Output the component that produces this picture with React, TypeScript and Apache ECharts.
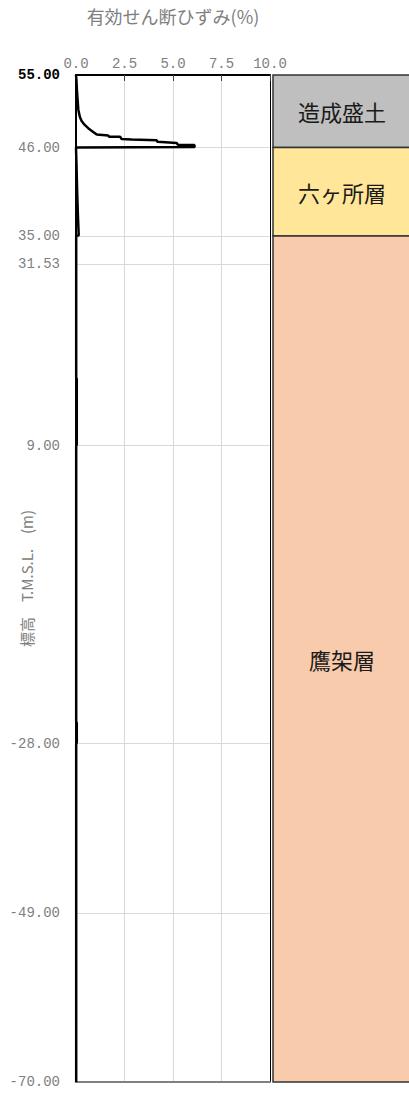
import React, { useEffect, useRef } from 'react';
import * as echarts from 'echarts';

// X axis (effective shear strain, %)
const xMin = 0;
const xMax = 10;
const xInterval = 2.5;

// Y axis (elevation T.M.S.L., m) tick values
const yTickValues = [55, 46, 35, 31.53, 9, -28, -49, -70];
const yMin = -70;
const yMax = 55;

// Strain profile
const strainPct = [
  0, 0.02, 0.05, 0.08, 0.12, 0.2, 0.29, 0.45, 0.63, 0.85, 1.07, 1.66, 1.7, 2.27, 2.35,
  2.87, 4.16, 4.2, 5.19, 5.25, 6.1, 6.12, 0, 0.03, 0.06, 0.1, 0.14, 0.01, 0.01, 0.04,
  0.04, 0.01, 0.01, 0.04, 0.04, 0.01, 0.01,
];
const elevation = [
  55, 54.5, 53.0, 52.0, 50.7, 49.8, 49.3, 48.8, 48.4, 48.0, 47.6, 47.5, 47.35, 47.35, 47.05,
  47.0, 46.9, 46.7, 46.55, 46.35, 46.3, 46.05, 46.0, 43.5, 40.5, 37.5, 35.1, 35.0, 17.4, 17.3,
  9.1, 9.0, -25.3, -25.4, -27.9, -28.0, -70,
];

// Strata column
const strataNames = ['造成盛土', '六ヶ所層', '鷹架層'];
const strataTops = [55, 46, 35];
const strataBottoms = [46, 35, -70];

const strataColors: Record<string, string> = {
  '造成盛土': '#bfbfbf',
  '六ヶ所層': '#ffe699',
  '鷹架層': '#f8cbad',
};

const labelFont = 'Liberation Mono';
const cjkFont = 'Noto Sans CJK JP';

export default function App() {
  const ref = useRef<HTMLDivElement>(null);

  useEffect(() => {
    if (!ref.current) return;
    const chart = echarts.init(ref.current, null, { renderer: 'svg' });

    const curve = strainPct.map((s, i) => [s, elevation[i]]);
    const strata = strataTops.map((t, i) => [0, t, strataBottoms[i]]);

    const gridTop = 75;
    const gridBottom = 13;

    chart.setOption({
      animation: false,
      backgroundColor: '#ffffff',
      grid: [
        { left: 76, right: 139, top: gridTop, bottom: gridBottom, outerBoundsMode: 'none' },
        { left: 273, right: -2, top: gridTop, bottom: gridBottom, outerBoundsMode: 'none' },
      ],
      xAxis: [
        {
          type: 'value',
          gridIndex: 0,
          position: 'top',
          min: xMin,
          max: xMax,
          interval: xInterval,
          name: '有効せん断ひずみ(%)',
          nameLocation: 'middle',
          nameGap: 50,
          nameMoveOverlap: false,
          nameTextStyle: { color: '#808080', fontSize: 18, fontFamily: cjkFont },
          axisLine: { show: true, onZero: false, lineStyle: { color: '#000', width: 2 } },
          axisTick: { show: true, inside: true, length: 6, lineStyle: { color: '#404040', width: 1 } },
          axisLabel: {
            show: true,
            margin: 4,
            color: '#808080',
            fontSize: 14,
            fontFamily: labelFont,
            formatter: (v: number) => v.toFixed(1),
          },
          splitLine: { show: true, lineStyle: { color: '#d9d9d9', width: 1 } },
        },
        {
          type: 'value',
          gridIndex: 0,
          position: 'bottom',
          min: xMin,
          max: xMax,
          axisLine: { show: true, onZero: false, lineStyle: { color: '#808080', width: 2 } },
          axisTick: { show: false },
          axisLabel: { show: false },
          splitLine: { show: false },
        },
        {
          type: 'value',
          gridIndex: 1,
          min: 0,
          max: 1,
          show: false,
        },
      ],
      yAxis: [
        {
          type: 'value',
          gridIndex: 0,
          min: yMin,
          max: yMax,
          name: '標高　T.M.S.L.　(m)',
          nameLocation: 'middle',
          nameRotate: 90,
          nameGap: 42,
          nameMoveOverlap: false,
          nameTextStyle: { color: '#808080', fontSize: 15, fontFamily: cjkFont },
          axisLine: { show: true, onZero: false, lineStyle: { color: '#000', width: 2 } },
          axisTick: { show: false, customValues: yTickValues },
          axisLabel: {
            show: true,
            margin: 16,
            customValues: yTickValues,
            fontFamily: labelFont,
            fontSize: 14,
            color: '#808080',
            formatter: (v: number) => (v === yMax ? '{top|' + v.toFixed(2) + '}' : v.toFixed(2)),
            rich: {
              top: { color: '#000', fontWeight: 'bold', fontSize: 14, fontFamily: labelFont },
            },
          },
          splitLine: { show: true, lineStyle: { color: '#d9d9d9', width: 1 } },
        },
        {
          type: 'value',
          gridIndex: 0,
          position: 'right',
          min: yMin,
          max: yMax,
          axisLine: { show: true, onZero: false, lineStyle: { color: '#000', width: 1 } },
          axisTick: { show: false },
          axisLabel: { show: false },
          splitLine: { show: false },
        },
        {
          type: 'value',
          gridIndex: 1,
          min: yMin,
          max: yMax,
          show: false,
        },
      ],
      series: [
        {
          type: 'line',
          xAxisIndex: 0,
          yAxisIndex: 0,
          data: curve,
          showSymbol: false,
          symbol: 'none',
          lineStyle: { color: '#000', width: 2.5 },
          z: 5,
        },
        {
          type: 'custom',
          xAxisIndex: 2,
          yAxisIndex: 2,
          data: strata,
          clip: false,
          renderItem: (params: any, api: any) => {
            const i = params.dataIndex;
            const top = api.value(1);
            const bottom = api.value(2);
            const p1 = api.coord([0, top]);
            const p2 = api.coord([1, bottom]);
            const name = strataNames[i];
            return {
              type: 'group',
              children: [
                {
                  type: 'rect',
                  shape: { x: p1[0], y: p1[1], width: p2[0] - p1[0], height: p2[1] - p1[1] },
                  style: { fill: strataColors[name], stroke: '#333333', lineWidth: 1.5 },
                },
                {
                  type: 'text',
                  style: {
                    text: name,
                    x: (p1[0] + p2[0]) / 2,
                    y: (p1[1] + p2[1]) / 2,
                    align: 'center',
                    verticalAlign: 'middle',
                    fontSize: 22,
                    fontFamily: cjkFont,
                    fill: '#1a1a1a',
                  },
                },
              ],
            };
          },
        },
      ],
    });

    return () => {
      chart.dispose();
    };
  }, []);

  return (
    <div
      ref={ref}
      style={{ position: 'absolute', left: 0, top: 0, width: 409, height: 1095 }}
    />
  );
}
